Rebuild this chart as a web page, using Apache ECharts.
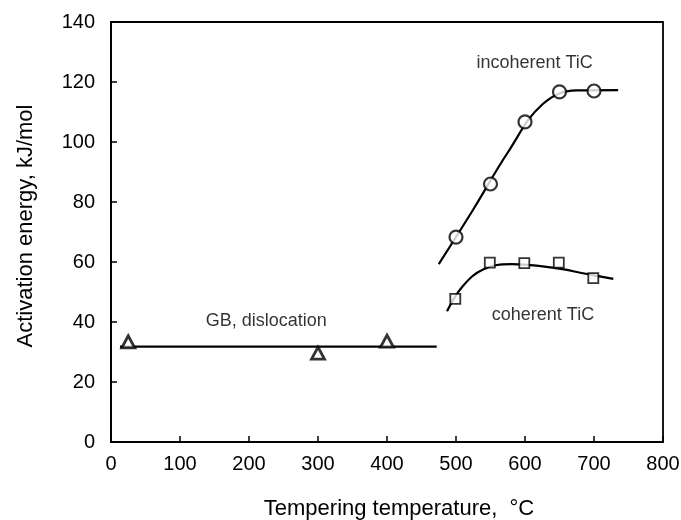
<!DOCTYPE html>
<html><head><meta charset="utf-8">
<script src="https://cdn.jsdelivr.net/npm/echarts@6/dist/echarts.min.js"></script>
<style>html,body{margin:0;padding:0;background:#fff}#c{width:681px;height:520px}</style>
</head><body><div id="c"></div>
<script>
var xTicks = [0,100,200,300,400,500,600,700,800];
var yTicks = [0,20,40,60,80,100,120,140];
var gbPoints = [[25,33.4],[300,29.6],[400,33.6]];
var gbLine = [[13,31.8],[472,31.8]];
var incohPoints = [[500,68.3],[550,86],[600,106.7],[650,116.7],[700,117]];
var incohCurve = [[475,59.3],[525,77.5],[575,96.5],[625,112.5],[675,117.2],[735,117.3]];
var cohPoints = [[499,47.7],[549,59.8],[599,59.6],[649,59.8],[699,54.6]];
var cohCurve = [[487,43.6],[510,52],[540,57.6],[580,59.3],[640,58.1],[690,56],[728,54.4]];
var labels = [
  {text:'incoherent TiC', x:614, y:126.3},
  {text:'coherent TiC', x:626, y:42.3},
  {text:'GB, dislocation', x:225, y:40.3}
];
var font = 'Liberation Sans, Arial, sans-serif';
var chart = echarts.init(document.getElementById('c'));
var axisCommon = {
  axisLine:{show:true,onZero:false,lineStyle:{color:'#000',width:1.8}},
  axisTick:{show:true,inside:true,length:6,lineStyle:{color:'#000',width:1.5}},
  splitLine:{show:false}
};
chart.setOption({
  animation:false,
  grid:{left:111,right:18,top:22,bottom:78,show:true,borderColor:'#000',borderWidth:1.8,containLabel:false,outerBoundsMode:'none'},
  xAxis:Object.assign({type:'value',min:0,max:800,interval:100,name:'Tempering temperature,  \u00B0C',nameLocation:'middle',nameGap:56,
    nameTextStyle:{color:'#000',fontSize:22,fontFamily:font,padding:[0,0,0,24]}},axisCommon,
    {axisLabel:{color:'#000',fontSize:20,fontFamily:font,margin:12}}),
  yAxis:Object.assign({type:'value',min:0,max:140,interval:20,name:'Activation energy, kJ/mol',nameLocation:'middle',nameGap:74,
    nameTextStyle:{color:'#000',fontSize:22,fontFamily:font,padding:[0,0,0,12]}},axisCommon,
    {axisLabel:{color:'#000',fontSize:20,fontFamily:font,margin:16}}),
  series:[
    {type:'line',data:gbLine,symbol:'none',lineStyle:{color:'#000',width:2.2},silent:true},
    {type:'line',data:incohCurve,symbol:'none',smooth:0.4,lineStyle:{color:'#000',width:2.2},silent:true},
    {type:'line',data:cohCurve,symbol:'none',smooth:0.4,lineStyle:{color:'#000',width:2.2},silent:true},
    {type:'scatter',data:gbPoints,symbol:'triangle',symbolSize:[13,12],itemStyle:{color:'#fff',borderColor:'#000',borderWidth:2.8},z:5},
    {type:'scatter',data:incohPoints,symbol:'circle',symbolSize:13,itemStyle:{color:'#fff',borderColor:'#000',borderWidth:2.2},z:5},
    {type:'scatter',data:cohPoints,symbol:'rect',symbolSize:10,itemStyle:{color:'#fff',borderColor:'#000',borderWidth:1.8},z:5},
    {type:'scatter',data:labels.map(function(l){return {value:[l.x,l.y],label:{formatter:l.text}};}),symbolSize:0,
     label:{show:true,position:'inside',color:'#000',fontSize:18,fontFamily:font},silent:true,z:6}
  ]
});
</script></body></html>
